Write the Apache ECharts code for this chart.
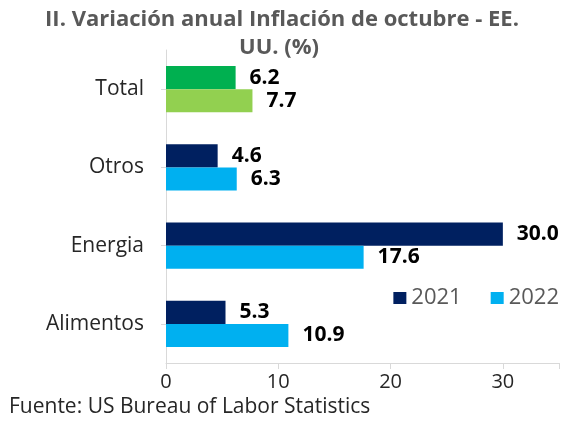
<!DOCTYPE html>
<html><head><meta charset="utf-8">
<script src="https://cdn.jsdelivr.net/npm/echarts@6/dist/echarts.min.js"></script>
<style>html,body{margin:0;padding:0;background:#fff}#c{width:564px;height:429px}</style>
</head><body><div id="c"></div>
<script>
const categories = ['Total', 'Otros', 'Energia', 'Alimentos'];
const seriesNames = ['2021', '2022'];
const values2021 = [6.2, 4.6, 30.0, 5.3];
const values2022 = [7.7, 6.3, 17.6, 10.9];
const xTicks = [0, 10, 20, 30];
const titleLines = ['II. Variación anual Inflación de octubre - EE.', 'UU. (%)'];
const sourceText = 'Fuente: US Bureau of Labor Statistics';

const FONT = 'Open Sans';
const colors = { '2021': '#002060', '2022': '#00B0F0' };
const totalColors = { '2021': '#00B050', '2022': '#92D050' };

function mkSeries(name, vals) {
  return {
    name: name, type: 'bar',
    data: vals.map((v, i) => categories[i] === 'Total'
      ? { value: v, itemStyle: { color: totalColors[name] } } : v),
    itemStyle: { color: colors[name] },
    barGap: '0%', barCategoryGap: '41%',
    label: { show: true, position: 'right', distance: 14,
      formatter: p => p.value.toFixed(1),
      fontFamily: FONT, fontWeight: 'bold', fontSize: 21, color: '#000' }
  };
}

const titleStyle = { fontFamily: FONT, fontWeight: 'bold', fontSize: 22, color: '#595959' };
const chart = echarts.init(document.getElementById('c'), null, { renderer: 'canvas' });
chart.setOption({
  animation: false,
  title: [
    { text: titleLines[0], left: 'center', top: 4, textStyle: titleStyle },
    { text: titleLines[1], left: 234, top: 32, textStyle: titleStyle }
  ],
  legend: {
    data: seriesNames, right: 0, top: 282, itemWidth: 13, itemHeight: 12, itemGap: 29,
    icon: 'rect',
    textStyle: { fontFamily: FONT, fontSize: 22, color: '#595959' }
  },
  grid: { left: 166, right: 5, top: 50, bottom: 66, containLabel: false },
  xAxis: {
    type: 'value', min: 0, max: 35, interval: 10,
    axisLine: { show: true, lineStyle: { color: '#d9d9d9', width: 1 } },
    axisTick: { show: true, length: 6, lineStyle: { color: '#d9d9d9' } },
    splitLine: { show: false },
    axisLabel: { fontFamily: FONT, fontSize: 20, color: '#262626', margin: 9,
      formatter: v => xTicks.includes(v) ? String(v) : '' }
  },
  yAxis: {
    type: 'category', data: categories, inverse: true,
    axisLine: { show: true, lineStyle: { color: '#d9d9d9', width: 1 } },
    axisTick: { show: true, alignWithLabel: true, length: 5, lineStyle: { color: '#d9d9d9' } },
    axisLabel: { fontFamily: FONT, fontSize: 21, color: '#262626', margin: 22 }
  },
  series: [mkSeries('2021', values2021), mkSeries('2022', values2022)],
  graphic: [{
    type: 'text', left: 9, top: 397,
    style: { text: sourceText, fontFamily: FONT, fontSize: 21, fill: '#262626' }
  }]
});
</script></body></html>
